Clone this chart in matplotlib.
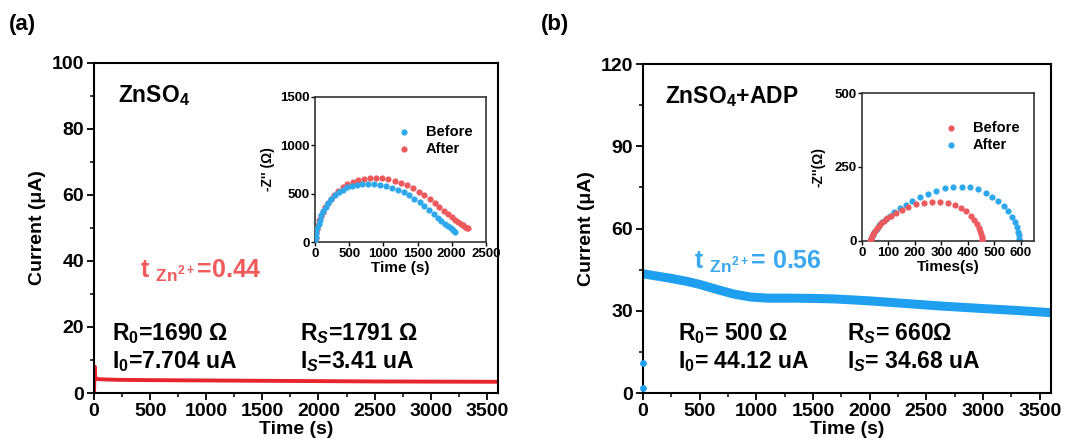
import matplotlib
matplotlib.use("Agg")
import matplotlib.pyplot as plt
from matplotlib.ticker import MultipleLocator, AutoMinorLocator

plt.rcParams['font.family'] = ['Liberation Sans', 'DejaVu Sans']
plt.rcParams['font.weight'] = 'bold'
plt.rcParams['axes.labelweight'] = 'bold'
plt.rcParams['mathtext.fontset'] = 'custom'
plt.rcParams['mathtext.rm'] = 'Liberation Sans:bold'
plt.rcParams['mathtext.bf'] = 'Liberation Sans:bold'
plt.rcParams['mathtext.it'] = 'Liberation Sans:bold:italic'
plt.rcParams['mathtext.default'] = 'bf'

RED = '#e8242c'
BLUE = '#1f9ff0'
DOT_RED = '#ec5a5e'
DOT_BLUE = '#2ea8ea'

# ---- polarization current, ZnSO4
t_a = [0, 6, 9, 12, 20, 40, 100, 200, 500, 1000, 1500, 2000, 2500, 3000, 3600]
i_a = [0, 8.0, 6.0, 4.6, 4.3, 4.2, 4.1, 4.0, 3.9, 3.8, 3.7, 3.6, 3.5, 3.45, 3.4]

# ---- polarization current, ZnSO4+ADP
t_b = [0, 100, 250, 400, 500, 650, 800, 950, 1100, 1300, 1500, 1700, 2000,
       2300, 2600, 3000, 3300, 3600]
i_b = [43.5, 42.8, 41.8, 40.6, 39.6, 37.8, 36.1, 35.0, 34.6, 34.6, 34.5,
       34.3, 33.6, 32.7, 31.8, 30.8, 30.1, 29.3]
t_b_start = [0, 0]
i_b_start = [2, 11]

# ---- impedance inset, ZnSO4
za_before_x = [0, 10, 22, 36, 52, 72, 95, 122, 155, 195, 240, 290, 345, 405,
               470, 540, 615, 695, 780, 865, 950, 1040, 1125, 1210, 1295, 1375,
               1455, 1530, 1600, 1670, 1735, 1795, 1850, 1900, 1945, 1985,
               2020, 2050]
za_before_y = [0, 50, 95, 140, 185, 230, 275, 320, 365, 408, 447, 483, 515,
               543, 565, 582, 593, 600, 602, 600, 593, 580, 562, 540, 515, 485,
               450, 410, 370, 330, 290, 252, 218, 188, 162, 140, 122, 108]
za_after_x = [0, 8, 18, 30, 45, 63, 85, 112, 145, 185, 230, 282, 340, 405,
              475, 550, 630, 715, 805, 895, 985, 1075, 1165, 1255, 1345, 1430,
              1515, 1595, 1675, 1750, 1820, 1885, 1945, 2000, 2050, 2095, 2135,
              2170, 2200, 2225, 2245]
za_after_y = [0, 45, 90, 135, 180, 225, 270, 315, 360, 405, 448, 490, 530,
              565, 595, 620, 638, 651, 658, 660, 657, 648, 633, 612, 586, 555,
              520, 482, 442, 400, 360, 322, 288, 258, 232, 210, 190, 173, 160,
              150, 142]

# ---- impedance inset, ZnSO4+ADP
zb_before_x = [30, 33, 37, 42, 48, 55, 63, 72, 82, 95, 110, 128, 150, 175,
               205, 235, 265, 295, 325, 352, 375, 395, 412, 425, 435, 442, 447,
               451, 453, 455, 455]
zb_before_y = [0, 8, 16, 25, 34, 43, 52, 60, 68, 77, 86, 95, 105, 115, 124,
               130, 133, 133, 129, 122, 112, 100, 86, 72, 58, 45, 33, 22, 13,
               6, 0]
zb_after_x = [30, 34, 40, 47, 55, 65, 77, 90, 105, 122, 142, 165, 190, 218,
              248, 280, 312, 345, 378, 410, 440, 468, 492, 515, 535, 552, 566,
              577, 585, 590, 593, 595, 596]
zb_after_y = [0, 10, 20, 31, 42, 53, 64, 75, 86, 98, 110, 122, 135, 148, 160,
              170, 178, 183, 184, 181, 174, 163, 150, 135, 118, 100, 82, 64,
              47, 32, 19, 8, 0]


def style_main(ax, ymax, ystep):
    ax.set_xlim(0, 3600)
    ax.set_ylim(0, ymax)
    ax.xaxis.set_major_locator(MultipleLocator(500))
    ax.xaxis.set_minor_locator(AutoMinorLocator(2))
    ax.yaxis.set_major_locator(MultipleLocator(ystep))
    ax.yaxis.set_minor_locator(AutoMinorLocator(2))
    ax.tick_params(which='major', direction='out', length=5, width=1.3,
                   labelsize=14, pad=2)
    ax.tick_params(which='minor', direction='out', length=3, width=1.1)
    for s in ax.spines.values():
        s.set_linewidth(1.5)
    ax.set_xlabel('Time (s)', fontsize=14, labelpad=1)
    ax.set_ylabel('Current (μA)', fontsize=14, labelpad=4)


def style_inset(ax, label_x):
    ax.tick_params(which='major', direction='out', length=3, width=1,
                   labelsize=9.5, pad=1)
    for s in ax.spines.values():
        s.set_linewidth(1.2)
        s.set_color('#333333')
    ax.yaxis.set_label_coords(label_x, 0.5)
    ax.legend(loc='upper left', bbox_to_anchor=(0.40, 0.85), frameon=False,
              fontsize=10.5, handletextpad=0.5, borderaxespad=0.0,
              labelspacing=0.2, markerscale=1.0)


fig = plt.figure(figsize=(10.72, 4.47), dpi=100)

# (a) ZnSO4
ax1 = fig.add_axes([0.0877, 0.1208, 0.3769, 0.7383])
ax1.plot(t_a, i_a, color=RED, lw=2.8)
style_main(ax1, 100, 20)
ax1.text(0.06, 0.90, 'ZnSO$_4$', transform=ax1.transAxes, fontsize=16.5,
         va='center')
ax1.text(0.115, 0.37, 't $_{Zn^{2+}}$=0.44', transform=ax1.transAxes,
         fontsize=18, color='#f05a5a', va='center')
ax1.text(0.045, 0.18, 'R$_0$=1690 Ω', transform=ax1.transAxes, fontsize=16.5,
         va='center')
ax1.text(0.045, 0.095, 'I$_0$=7.704 uA', transform=ax1.transAxes,
         fontsize=16.5, va='center')
ax1.text(0.51, 0.18, 'R$_{\\mathit{S}}$=1791 Ω', transform=ax1.transAxes,
         fontsize=16.5, va='center')
ax1.text(0.51, 0.095, 'I$_{\\mathit{S}}$=3.41 uA', transform=ax1.transAxes,
         fontsize=16.5, va='center')
fig.text(0.008, 0.945, '(a)', fontsize=16, va='center')

ins1 = fig.add_axes([0.2938, 0.4586, 0.1595, 0.3244])
ins1.scatter(za_before_x, za_before_y, s=20, color=DOT_BLUE, lw=0,
             label='Before', zorder=3)
ins1.scatter(za_after_x, za_after_y, s=20, color=DOT_RED, lw=0,
             label='After', zorder=2)
ins1.set_xlim(0, 2500)
ins1.set_ylim(0, 1500)
ins1.xaxis.set_major_locator(MultipleLocator(500))
ins1.yaxis.set_major_locator(MultipleLocator(500))
ins1.set_xlabel('Time (s)', fontsize=11, labelpad=1)
ins1.set_ylabel("-Z'' (Ω)", fontsize=10)
style_inset(ins1, -0.235)

# (b) ZnSO4+ADP
ax2 = fig.add_axes([0.5998, 0.1208, 0.3806, 0.7360])
ax2.plot(t_b, i_b, color=BLUE, lw=6.5, solid_capstyle='butt')
ax2.scatter(t_b_start, i_b_start, s=24, color=BLUE, lw=0, clip_on=False,
            zorder=3)
style_main(ax2, 120, 30)
ax2.text(0.055, 0.90, 'ZnSO$_4$+ADP', transform=ax2.transAxes, fontsize=16.5,
         va='center')
ax2.text(0.125, 0.40, 't $_{Zn^{2+}}$= 0.56', transform=ax2.transAxes,
         fontsize=18, color='#3aa8ee', va='center')
ax2.text(0.085, 0.18, 'R$_0$= 500 Ω', transform=ax2.transAxes, fontsize=16.5,
         va='center')
ax2.text(0.085, 0.095, 'I$_0$= 44.12 uA', transform=ax2.transAxes,
         fontsize=16.5, va='center')
ax2.text(0.50, 0.18, 'R$_{\\mathit{S}}$= 660Ω', transform=ax2.transAxes,
         fontsize=16.5, va='center')
ax2.text(0.50, 0.095, 'I$_{\\mathit{S}}$= 34.68 uA', transform=ax2.transAxes,
         fontsize=16.5, va='center')
fig.text(0.505, 0.945, '(b)', fontsize=16, va='center')

ins2 = fig.add_axes([0.8041, 0.4609, 0.1604, 0.3310])
ins2.scatter(zb_before_x, zb_before_y, s=20, color=DOT_RED, lw=0,
             label='Before', zorder=3)
ins2.scatter(zb_after_x, zb_after_y, s=20, color=DOT_BLUE, lw=0,
             label='After', zorder=2)
ins2.set_xlim(0, 650)
ins2.set_ylim(0, 500)
ins2.xaxis.set_major_locator(MultipleLocator(100))
ins2.yaxis.set_major_locator(MultipleLocator(250))
ins2.set_xlabel('Times(s)', fontsize=11, labelpad=1)
ins2.set_ylabel("-Z''(Ω)", fontsize=10)
style_inset(ins2, -0.21)

fig.savefig('out.png', dpi=100)
